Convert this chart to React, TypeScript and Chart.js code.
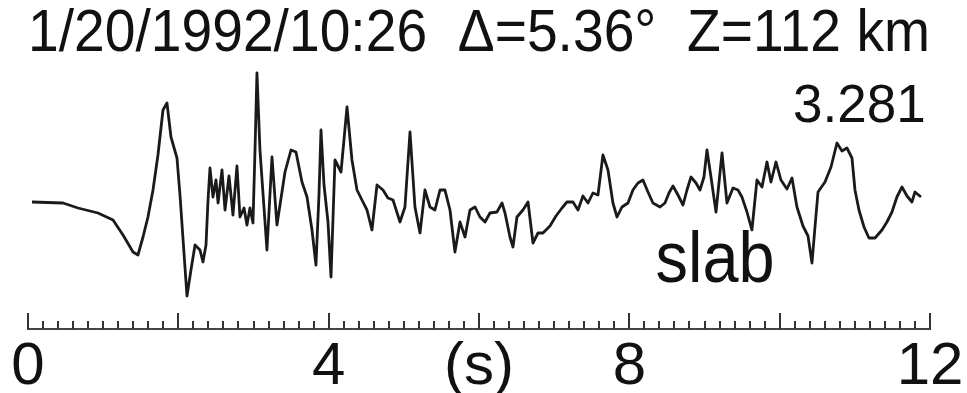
import { useEffect, useRef } from "react";
import { Chart, registerables } from "chart.js";

Chart.register(...registerables);

// Seismogram trace: time after window start (s) and ground-motion amplitude (counts)
const timeSec = [
  0.053, 0.466, 0.665, 0.931, 1.131, 1.264, 1.397, 1.463, 1.53, 1.596,
  1.663, 1.729, 1.796, 1.849, 1.902, 1.982, 2.022, 2.089, 2.115, 2.168,
  2.222, 2.288, 2.328, 2.368, 2.395, 2.421, 2.461, 2.501, 2.528, 2.581,
  2.621, 2.674, 2.727, 2.78, 2.82, 2.874, 2.913, 2.953, 2.993, 3.02,
  3.046, 3.086, 3.179, 3.246, 3.312, 3.419, 3.499, 3.565, 3.645, 3.712,
  3.778, 3.831, 3.871, 3.898, 3.938, 3.991, 4.031, 4.084, 4.164, 4.244,
  4.31, 4.377, 4.443, 4.51, 4.576, 4.643, 4.723, 4.789, 4.856, 4.949,
  5.015, 5.082, 5.148, 5.215, 5.281, 5.348, 5.414, 5.481, 5.547, 5.614,
  5.68, 5.747, 5.814, 5.88, 5.947, 6.013, 6.08, 6.146, 6.239, 6.306,
  6.346, 6.412, 6.452, 6.505, 6.585, 6.652, 6.718, 6.785, 6.851, 6.944,
  7.024, 7.104, 7.17, 7.25, 7.317, 7.383, 7.45, 7.516, 7.583, 7.649,
  7.716, 7.782, 7.836, 7.902, 7.982, 8.048, 8.115, 8.181, 8.248, 8.314,
  8.408, 8.474, 8.527, 8.581, 8.647, 8.714, 8.767, 8.82, 8.887, 8.94,
  8.993, 9.033, 9.086, 9.153, 9.233, 9.299, 9.379, 9.445, 9.498, 9.565,
  9.631, 9.698, 9.765, 9.831, 9.884, 9.951, 10.017, 10.097, 10.164, 10.23,
  10.31, 10.377, 10.43, 10.47, 10.51, 10.603, 10.683, 10.762, 10.829, 10.895,
  10.962, 11.002, 11.055, 11.122, 11.188, 11.268, 11.361, 11.427, 11.494, 11.56,
  11.627, 11.694, 11.76, 11.8, 11.88,
];

const amplitude = [
  0, -1, -6, -11, -18, -33, -50, -53, -35, -15,
  12, 47, 92, 99, 65, 44, 7, -66, -94, -68,
  -43, -48, -60, -43, 2, 34, 5, 22, -1, 32,
  -8, 26, -13, 36, -15, -6, -23, -6, -21, 52,
  129, 52, -48, 45, -23, 30, 52, 50, 20, 5,
  -28, -63, 7, 72, 17, -20, -75, 42, 30, 95,
  42, 12, 2, -8, -28, 17, 12, 4, 2, -20,
  -5, 70, -5, -31, 12, -5, -8, 12, 12, -8,
  -50, -20, -35, -8, -5, -15, -20, -11, -10, -1,
  -11, -35, -45, -15, -8, 0, -41, -31, -31, -24,
  -14, -6, 0, 0, -8, 6, -1, 9, 7, 47,
  32, -1, -15, -5, -1, 12, 19, 22, 10, -1,
  -5, -1, 9, 16, 7, -3, 12, 25, 19, 12,
  25, 52, 25, -10, 49, -1, 14, 12, 5, -10,
  -28, 22, 15, 40, 20, 40, 22, 13, 24, -5,
  -24, -34, -61, -25, 10, 20, 35, 59, 51, 54,
  44, 12, -8, -25, -36, -36, -28, -20, -10, 5,
  15, 6, 0, 10, 5,
];

// Time axis labels (seconds); the unit sits at the middle of the axis
const tickLabels: Record<number, string> = { 0: "0", 4: "4", 6: "(s)", 8: "8", 12: "12" };
const minorTickStep = 0.2;
const majorTickStep = 2;
const timeMax = 12;

const titleText = "1/20/1992/10:26  \u0394=5.36\u00b0  Z=112 km";
const peakLabel = "3.281";
const phaseLabel = "slab";

const FONT = '"Liberation Sans", Arial, Helvetica, sans-serif';

// Upward tick marks on the time axis plus the amplitude and phase annotations
const decorPlugin = {
  id: "traceDecor",
  afterDraw(chart: any) {
    const { ctx, chartArea, scales } = chart;
    const x = scales.x;
    const y = scales.y;
    ctx.save();
    ctx.strokeStyle = "#333";
    ctx.lineWidth = 2;
    ctx.beginPath();
    const n = Math.round(timeMax / minorTickStep);
    const perMajor = Math.round(majorTickStep / minorTickStep);
    for (let i = 0; i <= n; i++) {
      const px = Math.round(x.getPixelForValue(i * minorTickStep));
      const len = i % perMajor === 0 ? 16 : 8;
      ctx.moveTo(px, chartArea.bottom);
      ctx.lineTo(px, chartArea.bottom - len);
    }
    ctx.stroke();

    ctx.fillStyle = "#111";
    ctx.textAlign = "center";
    ctx.textBaseline = "alphabetic";
    ctx.font = `53px ${FONT}`;
    ctx.fillText(peakLabel, x.getPixelForValue(11.06), y.getPixelForValue(80));

    ctx.font = `72px ${FONT}`;
    ctx.translate(x.getPixelForValue(9.14), y.getPixelForValue(-80));
    ctx.scale(0.9, 1);
    ctx.fillText(phaseLabel, 0, 0);
    ctx.restore();
  },
};

export default function App() {
  const canvasRef = useRef<HTMLCanvasElement>(null);

  useEffect(() => {
    document.body.style.margin = "0";
    const canvas = canvasRef.current;
    if (!canvas) return;
    const points = timeSec.map((t, i) => ({ x: t, y: amplitude[i] }));

    const chart = new Chart(canvas, {
      type: "line",
      data: {
        datasets: [
          {
            data: points,
            borderColor: "#1a1a1a",
            borderWidth: 2.8,
            borderJoinStyle: "round",
            pointRadius: 0,
            tension: 0,
            fill: false,
          },
        ],
      },
      options: {
        animation: false,
        responsive: true,
        maintainAspectRatio: false,
        devicePixelRatio: 1,
        layout: { padding: { top: 0, left: 28, right: 37, bottom: -12 } },
        plugins: {
          legend: { display: false },
          tooltip: { enabled: false },
          title: {
            display: true,
            text: titleText,
            color: "#111",
            font: { family: FONT, size: 59, weight: "normal", lineHeight: 1 },
            padding: { top: 5, bottom: 6 },
          },
        },
        scales: {
          x: {
            type: "linear",
            min: 0,
            max: timeMax,
            grid: { display: false, drawTicks: false },
            border: { display: true, color: "#444", width: 2 },
            ticks: {
              stepSize: majorTickStep,
              autoSkip: false,
              maxRotation: 0,
              padding: 3,
              color: "#111",
              font: { family: FONT, size: 60, lineHeight: 70 / 60 },
              callback: (v: any) => tickLabels[Number(v)] ?? "",
            },
          },
          y: {
            type: "linear",
            display: false,
            min: -127,
            max: 132,
          },
        },
      },
      plugins: [decorPlugin],
    });
    return () => chart.destroy();
  }, []);

  return (
    <div style={{ position: "relative", width: 967, height: 393 }}>
      <canvas ref={canvasRef} />
    </div>
  );
}
